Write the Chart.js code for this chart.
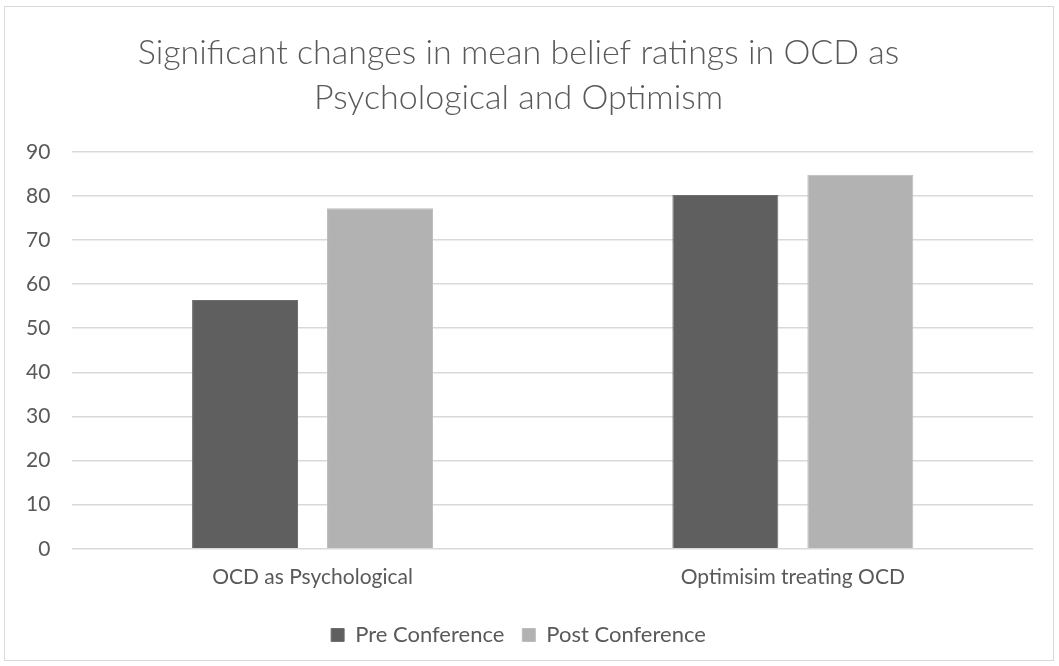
<!DOCTYPE html>
<html>
<head>
<meta charset="utf-8">
<script src="https://cdn.jsdelivr.net/npm/chart.js@4/dist/chart.umd.min.js"></script>
<style>
  html, body { margin: 0; padding: 0; background: #fff; }
  #wrap { position: absolute; left: 4px; top: 6px; width: 1050px; height: 655px; border: 1px solid #d9d9d9; box-sizing: border-box; }
  #box { position: absolute; left: 0; top: 0; width: 1059px; height: 666px; }
</style>
</head>
<body>
<div id="wrap"></div>
<div id="box"><canvas id="c"></canvas></div>
<script>
const categories = ["OCD as Psychological", "Optimisim treating OCD"];
const preConference = [56.4, 80.2];
const postConference = [77.2, 84.8];
const seriesNames = ["Pre Conference", "Post Conference"];
const titleLines = ["Significant changes in mean belief ratings in OCD as", "Psychological and Optimism"];

const FONT = "Lato, 'Liberation Sans', sans-serif";
const TXT = "#595959";

new Chart(document.getElementById("c"), {
  type: "bar",
  data: {
    labels: categories,
    datasets: [
      { label: seriesNames[0], data: preConference, backgroundColor: "#5f5f5f", borderColor: "#6e6e6e", borderWidth: 1,
        categoryPercentage: 0.562, barPercentage: 0.785 },
      { label: seriesNames[1], data: postConference, backgroundColor: "#b2b2b2", borderColor: "#bdbdbd", borderWidth: 1,
        categoryPercentage: 0.562, barPercentage: 0.785 }
    ]
  },
  options: {
    responsive: true,
    maintainAspectRatio: false,
    animation: false,
    devicePixelRatio: 1,
    layout: { padding: { left: 4, right: 26, top: 10, bottom: 10 } },
    plugins: {
      title: {
        display: true,
        text: titleLines,
        color: TXT,
        font: { family: FONT, size: 34, weight: "300", lineHeight: 1.32 },
        padding: { top: 21, bottom: 31 }
      },
      legend: {
        position: "bottom",
        labels: {
          color: TXT,
          font: { family: FONT, size: 22 },
          boxWidth: 13, boxHeight: 13,
          padding: 18
        }
      },
      tooltip: { enabled: false }
    },
    scales: {
      x: {
        grid: { display: false, drawTicks: false },
        border: { display: false },
        ticks: { color: TXT, font: { family: FONT, size: 21 }, padding: 16 }
      },
      y: {
        min: 0, max: 90,
        grid: { color: "#d9d9d9", lineWidth: 1.5, drawTicks: false },
        border: { display: false },
        ticks: { stepSize: 10, color: TXT, font: { family: FONT, size: 21 }, padding: 22 }
      }
    }
  }
});
</script>
</body>
</html>
